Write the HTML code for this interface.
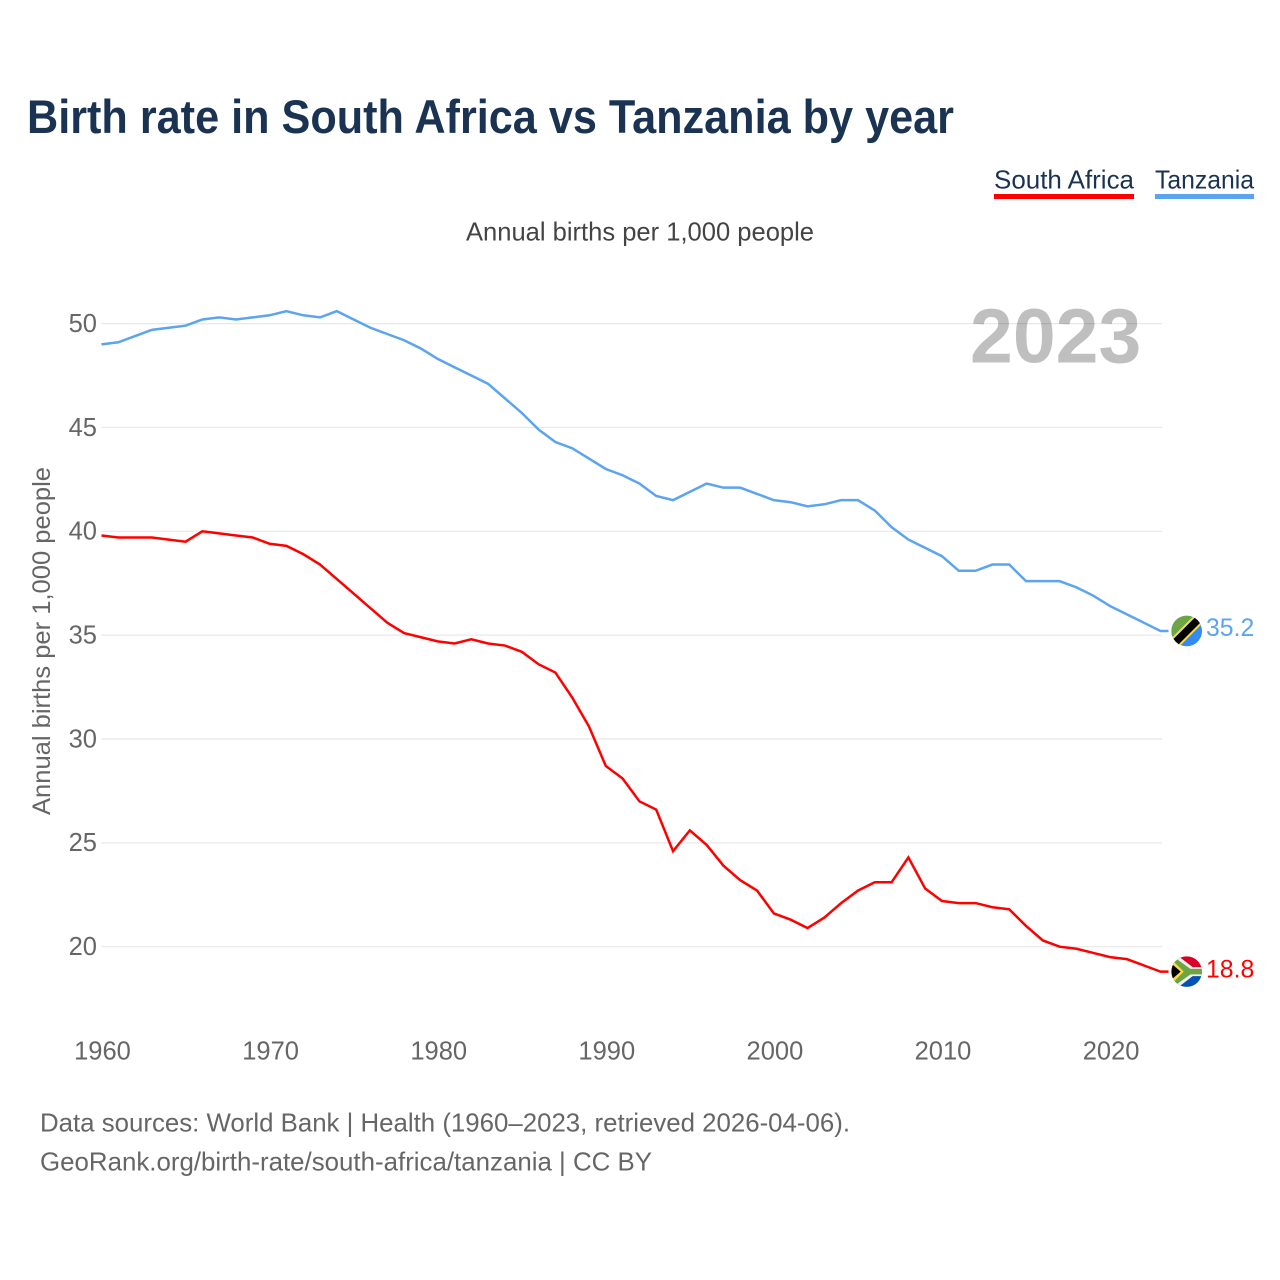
<!DOCTYPE html>
<html lang="en">
<head>
<meta charset="utf-8">
<title>Birth rate in South Africa vs Tanzania by year</title>
<style>
html,body{margin:0;padding:0;background:#fff}
body{width:1280px;height:1280px;overflow:hidden}
svg{display:block}
text{font-family:"Liberation Sans",sans-serif}
</style>
</head>
<body>
<svg id="chart" xmlns="http://www.w3.org/2000/svg" width="1280" height="1280" viewBox="0 0 1280 1280">
  <defs>
    <clipPath id="flag-clip"><circle cx="0" cy="0" r="15.3"/></clipPath>
  </defs>
  <rect width="1280" height="1280" fill="#fff"/>
  <text x="27" y="133" font-size="47" font-weight="700" fill="#1a3352" textLength="927" lengthAdjust="spacingAndGlyphs">Birth rate in South Africa vs Tanzania by year</text>

  <g>
    <g>
      <text x="994" y="188.5" font-size="26" fill="#1a3352" textLength="140" lengthAdjust="spacingAndGlyphs">South Africa</text>
      <rect x="994" y="194" width="140" height="5" fill="#ff0000"/>
    </g>
    <g>
      <text x="1155" y="188.5" font-size="26" fill="#1a3352" textLength="99" lengthAdjust="spacingAndGlyphs">Tanzania</text>
      <rect x="1155" y="194" width="99" height="5" fill="#5ba4ef"/>
    </g>
  </g>

  <text x="466" y="240.5" font-size="26" fill="#444" textLength="348" lengthAdjust="spacingAndGlyphs">Annual births per 1,000 people</text>

  <g id="grid"></g>
  <g id="y-ticks"></g>
  <g id="x-ticks"></g>

  <text transform="translate(50,815) rotate(-90)" x="0" y="0" font-size="25" fill="#666" textLength="348" lengthAdjust="spacingAndGlyphs">Annual births per 1,000 people</text>

  <text x="970" y="362.5" font-size="77" font-weight="700" fill="#000" fill-opacity="0.25">2023</text>

  <g id="series"></g>

  <g id="flag-tz">
    <g clip-path="url(#flag-clip)">
      <rect x="-16" y="-16" width="32" height="32" fill="#338af3"/>
      <polygon points="-16,-16 16,-16 -16,16" fill="#6da544"/>
      <line x1="-16" y1="16" x2="16" y2="-16" stroke="#ffda44" stroke-width="11.5"/>
      <line x1="-16" y1="16" x2="16" y2="-16" stroke="#000" stroke-width="7.5"/>
    </g>
  </g>
  <g id="flag-za">
    <g clip-path="url(#flag-clip)">
      <rect x="-16" y="-16" width="32" height="16" fill="#d80027"/>
      <rect x="-16" y="0" width="32" height="16" fill="#0052b4"/>
      <polygon points="-16,-16 -9,-16 6,-4.5 16,-4.5 16,4.5 6,4.5 -9,16 -16,16" fill="#f0f0f0"/>
      <polygon points="-16,-13 -10.5,-13 3.8,-2.8 16,-2.8 16,2.8 3.8,2.8 -10.5,13 -16,13" fill="#6da544"/>
      <polygon points="-16,-9 -12,-9 -3,0 -12,9 -16,9" fill="#ffda44"/>
      <polygon points="-16,-6.5 -13.5,-6.5 -6,0 -13.5,6.5 -16,6.5" fill="#000"/>
    </g>
  </g>
  <text id="value-tz" x="1206" font-size="24.8" fill="#5ba4ef"></text>
  <text id="value-za" x="1206" font-size="24.8" fill="#ff0000"></text>

  <text x="40" y="1131.5" font-size="26" fill="#666" textLength="810" lengthAdjust="spacingAndGlyphs">Data sources: World Bank | Health (1960–2023, retrieved 2026-04-06).</text>
  <text x="40" y="1170.5" font-size="26" fill="#666" textLength="612" lengthAdjust="spacingAndGlyphs">GeoRank.org/birth-rate/south-africa/tanzania | CC BY</text>
</svg>
<script>
const startYear = 1960;
const southAfrica = [39.8,39.7,39.7,39.7,39.6,39.5,40.0,39.9,39.8,39.7,39.4,39.3,38.9,38.4,37.7,37.0,36.3,35.6,35.1,34.9,34.7,34.6,34.8,34.6,34.5,34.2,33.6,33.2,32.0,30.6,28.7,28.1,27.0,26.6,24.6,25.6,24.9,23.9,23.2,22.7,21.6,21.3,20.9,21.4,22.1,22.7,23.1,23.1,24.3,22.8,22.2,22.1,22.1,21.9,21.8,21.0,20.3,20.0,19.9,19.7,19.5,19.4,19.1,18.8];
const tanzania = [49.0,49.1,49.4,49.7,49.8,49.9,50.2,50.3,50.2,50.3,50.4,50.6,50.4,50.3,50.6,50.2,49.8,49.5,49.2,48.8,48.3,47.9,47.5,47.1,46.4,45.7,44.9,44.3,44.0,43.5,43.0,42.7,42.3,41.7,41.5,41.9,42.3,42.1,42.1,41.8,41.5,41.4,41.2,41.3,41.5,41.5,41.0,40.2,39.6,39.2,38.8,38.1,38.1,38.4,38.4,37.6,37.6,37.6,37.3,36.9,36.4,36.0,35.6,35.2];
const yTicks = [20,25,30,35,40,45,50];
const xTicks = [1960,1970,1980,1990,2000,2010,2020];

const NS = 'http://www.w3.org/2000/svg';
const plotLeft = 101.5, plotRight = 1162;
const endYear = startYear + southAfrica.length - 1;
function xScale(year){ return plotLeft + (year - startYear) * 16.81; }
function yScale(v){ return 946.7 - (v - 20) * 20.77; }

const gridG = document.getElementById('grid');
const yG = document.getElementById('y-ticks');
yTicks.forEach(function(t){
  const l = document.createElementNS(NS,'line');
  
  
  l.setAttribute('x1', plotLeft);
  l.setAttribute('x2', plotRight);
  l.setAttribute('y1', yScale(t));
  l.setAttribute('y2', yScale(t));
  l.setAttribute('stroke', '#e8e8e8');
  l.setAttribute('stroke-width', '1.2');
  gridG.appendChild(l);
  const s = document.createElementNS(NS,'text');
  
  
  s.setAttribute('x', 97);
  s.setAttribute('y', yScale(t) + 8.3);
  s.setAttribute('text-anchor', 'end');
  s.setAttribute('font-size', '25.5');
  s.setAttribute('fill', '#666');
  s.textContent = t;
  yG.appendChild(s);
});

const xG = document.getElementById('x-ticks');
xTicks.forEach(function(t){
  const s = document.createElementNS(NS,'text');
  
  
  s.setAttribute('x', xScale(t) + 1);
  s.setAttribute('y', 1059.5);
  s.setAttribute('text-anchor', 'middle');
  s.setAttribute('font-size', '25.5');
  s.setAttribute('fill', '#666');
  s.textContent = t;
  xG.appendChild(s);
});

function linePath(values){
  let d = values.map(function(v,i){
    return (i ? 'L' : 'M') + xScale(startYear + i).toFixed(2) + ' ' + yScale(v).toFixed(2);
  }).join(' ');
  d += ' L' + (xScale(endYear) + 8).toFixed(2) + ' ' + yScale(values[values.length-1]).toFixed(2);
  return d;
}
const seriesG = document.getElementById('series');
const tzLine = document.createElementNS(NS,'path');


tzLine.setAttribute('d', linePath(tanzania));
tzLine.setAttribute('fill', 'none');
tzLine.setAttribute('stroke', '#5ba4ef');
tzLine.setAttribute('stroke-width', '2.5');
seriesG.appendChild(tzLine);
const zaLine = document.createElementNS(NS,'path');


zaLine.setAttribute('d', linePath(southAfrica));
zaLine.setAttribute('fill', 'none');
zaLine.setAttribute('stroke', '#ff0000');
zaLine.setAttribute('stroke-width', '2.5');
seriesG.appendChild(zaLine);

const lastTz = tanzania[tanzania.length-1];
const lastZa = southAfrica[southAfrica.length-1];
document.getElementById('flag-tz').setAttribute('transform', 'translate(1186.7,' + yScale(lastTz) + ')');
document.getElementById('flag-za').setAttribute('transform', 'translate(1186.7,' + yScale(lastZa) + ')');
const vTz = document.getElementById('value-tz');
vTz.setAttribute('y', yScale(lastTz) + 5);
vTz.textContent = lastTz.toFixed(1);
const vZa = document.getElementById('value-za');
vZa.setAttribute('y', yScale(lastZa) + 5.8);
vZa.textContent = lastZa.toFixed(1);
</script>
</body>
</html>
